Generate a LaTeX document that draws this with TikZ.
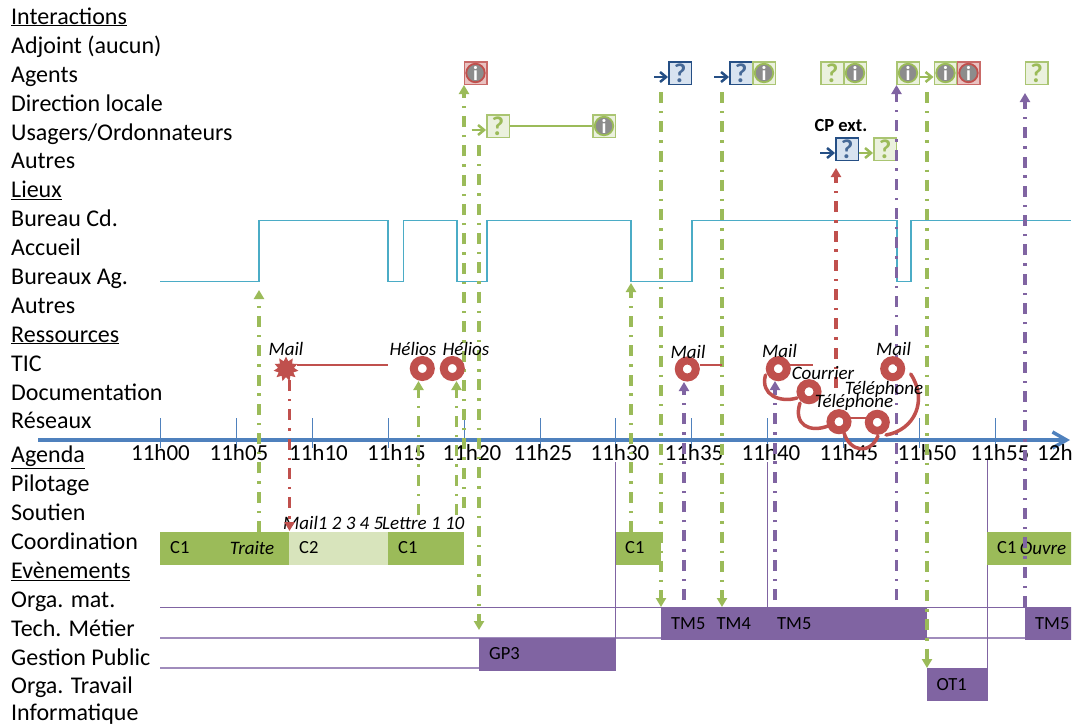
\documentclass[tikz,border=0pt]{standalone}
\usepackage{fontspec}
\setmainfont{Carlito}
\usetikzlibrary{arrows.meta,shapes.geometric}
\definecolor{cgreen}{HTML}{9BBB59}
\definecolor{clight}{HTML}{D8E4BC}
\definecolor{cpurple}{HTML}{8064A2}
\definecolor{cred}{HTML}{C0504D}
\definecolor{cblue}{HTML}{4F81BD}
\definecolor{cnavy}{HTML}{254F85}
\definecolor{cteal}{HTML}{4BACC6}
\definecolor{cthin}{HTML}{A08CBC}
\definecolor{cgray}{HTML}{8C8C8C}
\tikzset{
 lab/.style={anchor=base west,inner sep=0pt,font=\fontsize{24}{24}\selectfont},
 timelab/.style={anchor=base,inner sep=0pt,font=\fontsize{23}{23}\selectfont},
 ital/.style={inner sep=0pt,font=\fontsize{19}{19}\selectfont\itshape},
 bartxt/.style={anchor=west,inner sep=0pt,font=\fontsize{18.5}{18.5}\selectfont},
 barbox/.style={rectangle,inner sep=0pt,draw=none,anchor=north west},
 dd/.style={line width=3.2pt,dash pattern=on 11pt off 8pt on 2.4pt off 7.9pt},
 tip/.style={-{Triangle[length=9pt,width=10pt]}},
 ddg/.style={dd,tip,cgreen},
 ddr/.style={dd,tip,cred},
 ddp/.style={dd,tip,cpurple},
 tick/.style={cblue,line width=1pt},
 barb/.style={line width=2.5pt,-{Straight Barb[length=6pt,width=10pt,line width=2.5pt]}},
 box/.style={rectangle,minimum size=22.5pt,inner sep=0pt,line width=1.5pt},
 qtext/.style={font=\fontsize{27}{27}\selectfont\bfseries},
 qg/.style={box,qtext,draw=cgreen!85,fill=cgreen!20,text=cgreen},
 qb/.style={box,qtext,draw=cnavy,fill=cblue!22,text=cnavy!85},
 ig/.style={box,draw=cgreen!85,fill=cgreen!20},
 ir/.style={box,draw=cred!85,fill=cred!35},
 idisc/.style={circle,minimum size=18.5pt,inner sep=0pt,fill=cgray,line width=1.8pt,text=white,font=\fontsize{20}{20}\selectfont\bfseries},
 ring/.style={circle,draw=cred,line width=8pt,minimum size=17pt,inner sep=0pt},
 redline/.style={cred,line width=2pt},
 curl/.style={cred,line width=3.5pt,line cap=round},
 vthin/.style={cpurple,line width=1pt},
 hdark/.style={cpurple,line width=1pt},
 hlight/.style={cthin,line width=1.4pt},
}
\newcommand{\lbl}[3]{\node[lab] (#1) at (11,#2) {#3};}
\newcommand{\tl}[3]{\node[timelab] (#1) at (#2,460) {#3};}
\newcommand{\infoic}[5]{\node[#4] (#1) at (#2,#3) {};\node[idisc,draw=#5] (#1d) at (#1.center) {i};}
\newcommand{\conn}[5]{\coordinate (#1a) at (#2,#3);\coordinate (#1b) at (#2,#4);\draw[#5] (#1a) -- (#1b);}
\newcommand{\bbar}[6]{\node[barbox,fill=#6,minimum width=#4pt,minimum height=#5pt] (#1) at (#2,#3) {};}
\begin{document}
\begin{tikzpicture}[x=1pt,y=-1pt]
\useasboundingbox (0,0) rectangle (1077,726);
\fill[white] (0,0) rectangle (1077,726);
\begin{scope}
\clip (0,0) rectangle (1071,726);
% left labels
\lbl{l1}{24}{\underline{Interactions}}
\lbl{l2}{53}{Adjoint (aucun)}
\lbl{l3}{82}{Agents}
\lbl{l4}{111}{Direction locale}
\lbl{l5}{140}{Usagers/Ordonnateurs}
\lbl{l6}{168.5}{Autres}
\lbl{l7}{197.5}{\underline{Lieux}}
\lbl{l8}{226.5}{Bureau Cd.}
\lbl{l9}{255.5}{Accueil}
\lbl{l10}{284.5}{Bureaux Ag.}
\lbl{l11}{313}{Autres}
\lbl{l12}{342}{\underline{Ressources}}
\lbl{l13}{371}{TIC}
\lbl{l14}{400}{Documentation}
\lbl{l15}{428.5}{Réseaux}
\lbl{l16}{462.5}{\underline{Agenda}}
\lbl{l17}{491.5}{Pilotage}
\lbl{l18}{520.5}{Soutien}
\lbl{l19}{549.5}{Coordination}
\lbl{l20}{578.5}{\underline{Evènements}}
\lbl{l21}{607}{Orga. mat.}
\lbl{l22}{636}{Tech. Métier}
\lbl{l23}{665}{Gestion Public}
\lbl{l24}{693.5}{Orga. Travail}
\lbl{l25}{720}{Informatique}
% thin event lines
\coordinate (h1a) at (160,607.5);\coordinate (h1b) at (1025,607.5);\draw[hdark] (h1a) -- (h1b);
\coordinate (h2a) at (160,638);\coordinate (h2b) at (1025,638);\draw[hlight] (h2a) -- (h2b);
\coordinate (h3a) at (160,668);\coordinate (h3b) at (479,668);\draw[hlight] (h3a) -- (h3b);
\coordinate (v1a) at (615.5,462);\coordinate (v1b) at (615.5,638);\draw[vthin] (v1a) -- (v1b);
\coordinate (v2a) at (767.5,462);\coordinate (v2b) at (767.5,607);\draw[vthin] (v2a) -- (v2b);
\coordinate (v3a) at (987,460);\coordinate (v3b) at (987,668);\draw[vthin] (v3a) -- (v3b);
% bars
\bbar{c1a}{160}{532}{129}{33}{cgreen}
\bbar{c2}{289}{532}{99}{33}{clight}
\bbar{c1b}{388}{532}{76}{33}{cgreen}
\bbar{c1c}{615.5}{532}{45.5}{33}{cgreen}
\bbar{c1d}{987}{532}{90}{33}{cgreen}
\bbar{gp3}{479}{638}{137}{33}{cpurple}
\bbar{tm}{661}{607}{266}{33}{cpurple}
\bbar{tmz}{1025}{607}{52}{33}{cpurple}
\bbar{ot1}{927}{668}{61}{33}{cpurple}
\node[bartxt] (tc1a) at (170,548) {C1};
\node[ital] (ttraite) at (252,548) {Traite};
\node[bartxt] (tc2) at (299,548) {C2};
\node[bartxt] (tc1b) at (398,548) {C1};
\node[bartxt] (tc1c) at (625,548) {C1};
\node[bartxt] (tc1d) at (997,548) {C1};
\node[ital] (touvre) at (1043,548) {Ouvre};
\node[bartxt] (tgp3) at (489,654) {GP3};
\node[bartxt] (ttm1) at (671,624) {TM5};
\node[bartxt] (ttm2) at (716.5,624) {TM4};
\node[bartxt] (ttm3) at (777,624) {TM5};
\node[bartxt] (ttm4) at (1035,624) {TM5};
\node[bartxt] (tot1) at (936.5,685) {OT1};
\node[ital,anchor=west] (tmail) at (283,523) {Mail1 2 3 4 5};
\node[ital,anchor=west] (tlettre) at (382,523) {Lettre 1 10};
% lieux step line
\coordinate (s0) at (160,281.5);\coordinate (s1) at (1071,220.5);
\draw[cteal,line width=1.5pt] (s0) -- (259,281.5) -- (259,220.5) -- (388,220.5) -- (388,281.5) -- (403.5,281.5) -- (403.5,220.5) -- (457,220.5) -- (457,281.5) -- (487,281.5) -- (487,220.5) -- (631,220.5) -- (631,281.5) -- (692,281.5) -- (692,220.5) -- (897,220.5) -- (897,281.5) -- (911,281.5) -- (911,220.5) -- (s1);
% axis
\foreach \n/\x in {0/160,1/236.5,2/312,3/388,4/464,5/540,6/615.5,7/691,8/767,9/843,10/919,11/995}{
  \coordinate (ta\n) at (\x,418);\coordinate (tb\n) at (\x,448);\draw[tick] (ta\n) -- (tb\n);}
\coordinate (axa) at (38,440);\coordinate (axb) at (1070,440);
\draw[cblue,line width=3.5pt,-{Straight Barb[length=14pt,width=16pt,line width=3.5pt]}] (axa) -- (axb);
\tl{t0}{160.5}{11h00}\tl{t1}{239}{11h05}\tl{t2}{318.5}{11h10}\tl{t3}{396.5}{11h15}\tl{t4}{472}{11h20}
\tl{t5}{543}{11h25}\tl{t6}{620}{11h30}\tl{t7}{694}{11h35}\tl{t8}{771}{11h40}\tl{t9}{849}{11h45}
\tl{t10}{927}{11h50}\tl{t11}{1000}{11h55}
\node[timelab,anchor=base west] (t12) at (1037,460) {12h};
% icons
\infoic{i1}{475.5}{73}{ir}{cred}
\node[qg] (q1) at (498,126) {?};
\infoic{i2}{604}{126}{ig}{cgreen}
\draw[cgreen,line width=1.5pt] (q1) -- (i2);
\node[qb] (q2) at (680,73) {?};
\node[qb] (q3) at (741,73) {?};
\infoic{i3}{764}{73}{ig}{cgreen}
\node[qg] (q4) at (832,73) {?};
\infoic{i4}{855}{73}{ig}{cgreen}
\infoic{i5}{908}{73}{ig}{cgreen}
\infoic{i6}{945.5}{73}{ig}{cgreen}
\infoic{i7}{968.5}{73}{ir}{cred}
\node[qg] (q5) at (1036.5,73) {?};
\node[qb] (q6) at (847,149) {?};
\node[qg] (q7) at (885,149) {?};
\node[inner sep=0pt,font=\fontsize{18.5}{18.5}\selectfont\bfseries] (cpext) at (841,125) {CP ext.};
% small arrows
\coordinate (g1) at (471.5,130);\draw[barb,cgreen] (g1) -- (q1.west |- g1);
\coordinate (b1) at (654,77);\draw[barb,cnavy] (b1) -- (q2.west |- b1);
\coordinate (b2) at (714,77);\draw[barb,cnavy] (b2) -- (q3.west |- b2);
\coordinate (b3) at (820,153);\draw[barb,cnavy] (b3) -- (q6.west |- b3);
\draw[barb,cgreen] (q6.east |- b3) -- (q7.west |- b3);
\coordinate (b4) at (919.5,77);\draw[barb,cgreen] (b4) -- (i6.west |- b4);
% connectors
\conn{ka}{259}{532}{290}{ddg}
\conn{kb}{418.5}{515}{381}{ddg}
\conn{kc}{456.5}{515}{381}{ddg}
\conn{kd}{464}{508}{85}{ddg}
\conn{ke}{479}{145}{630}{ddg}
\conn{kf}{661}{92}{607}{ddg}
\conn{kg}{722}{92}{607}{ddg}
\conn{kh}{631}{532}{283}{ddg}
\conn{ki}{927}{92}{668}{ddg}
\conn{kj}{289.5}{380}{531}{ddr}
\conn{kk}{836}{388}{168}{ddr}
\conn{kl}{896.5}{600}{85}{ddp}
\conn{km}{1025}{607}{93}{ddp}
\conn{kn}{684}{600}{382}{ddp}
\conn{ko}{775}{600}{381}{ddp}
% rings
\node[star,star points=11,star point ratio=1.55,fill=cred,minimum size=25pt,inner sep=0pt] (st) at (286,369) {};
\node[ring] (r1) at (422.3,368.5) {};
\node[ring] (r2) at (452.3,368.5) {};
\node[ring] (r3) at (687.3,369) {};
\node[ring] (r4) at (778.3,368.7) {};
\node[ring] (r5) at (809,391.7) {};
\node[ring] (r6) at (839,421.7) {};
\node[ring] (r7) at (877.3,422.3) {};
\node[ring] (r8) at (892.7,368.7) {};
\coordinate (e1a) at (297,364.7);\coordinate (e1b) at (388,364.7);\draw[redline] (e1a) -- (e1b);
\coordinate (e2a) at (700,364.7);\coordinate (e2b) at (722,364.7);\draw[redline] (e2a) -- (e2b);
\coordinate (e3a) at (790,364.7);\coordinate (e3b) at (813,364.7);\draw[redline] (e3a) -- (e3b);
\coordinate (e4a) at (850,418);\coordinate (e4b) at (866,418);\draw[redline] (e4a) -- (e4b);
\coordinate (u1a) at (765.5,375);\coordinate (u1b) at (797,398);
\draw[curl] (u1a) .. controls (760,395) and (780,403) .. (u1b);
\coordinate (u2a) at (800,403);\coordinate (u2b) at (828,426);
\draw[curl] (u2a) .. controls (793,425) and (810,433) .. (u2b);
\coordinate (u3a) at (844,433);\coordinate (u3b) at (878,436);
\draw[curl] (u3a) .. controls (850,452) and (870,455) .. (u3b);
\coordinate (u4a) at (910.7,374);\coordinate (u4b) at (886,435);
\draw[curl] (u4a) .. controls (928,400) and (915,430) .. (u4b);
% italic resource labels
\node[ital] (m1) at (286,349) {Mail};
\node[ital] (m2) at (413,349) {Hélios};
\node[ital] (m3) at (466,349) {Hélios};
\node[ital] (m4) at (688,352) {Mail};
\node[ital] (m5) at (779.5,351) {Mail};
\node[ital] (m6) at (893.5,349) {Mail};
\node[ital] (m7) at (823,373) {Courrier};
\node[ital] (m8) at (884,389) {Téléphone};
\node[ital] (m9) at (854,402) {Téléphone};
\end{scope}
\end{tikzpicture}
\end{document}
